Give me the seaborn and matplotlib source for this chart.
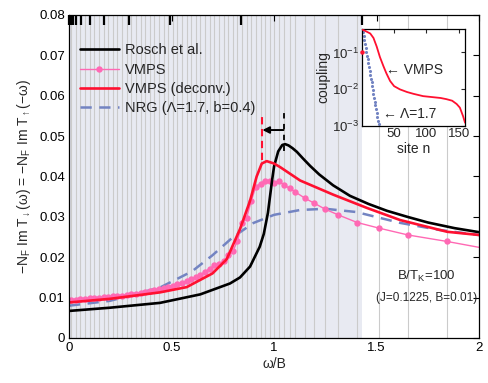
import numpy as np
import pandas as pd
import matplotlib
matplotlib.use("Agg")
import matplotlib.pyplot as plt
import seaborn as sns

# ---------------- data ----------------
rosch_x = [0.0, 0.2, 0.444, 0.64, 0.785, 0.834, 0.883, 0.93, 0.95, 0.97, 0.99, 1.0, 1.02,
           1.04, 1.054, 1.07, 1.09, 1.111, 1.14, 1.176, 1.22, 1.288, 1.37, 1.46, 1.55,
           1.65, 1.75, 1.88, 2.0]
rosch_y = [0.0067, 0.0075, 0.0087, 0.0108, 0.0135, 0.0150, 0.0177, 0.0226, 0.0258, 0.0310,
           0.0390, 0.0425, 0.0462, 0.0478, 0.0480, 0.0477, 0.0470, 0.0461, 0.0445, 0.0426,
           0.0405, 0.0378, 0.0352, 0.0332, 0.0315, 0.0300, 0.0286, 0.0272, 0.0262]

vmps_x = [0.011, 0.034, 0.056, 0.079, 0.101, 0.124, 0.146, 0.169, 0.191, 0.214, 0.236,
          0.259, 0.281, 0.304, 0.326, 0.349, 0.371, 0.394, 0.416, 0.439, 0.461, 0.484,
          0.506, 0.529, 0.551, 0.574, 0.596, 0.619, 0.641, 0.664, 0.686, 0.709, 0.731,
          0.754, 0.776, 0.799, 0.821, 0.844, 0.866, 0.889, 0.911, 0.934, 0.956, 0.979,
          1.001, 1.024, 1.049, 1.076, 1.102, 1.151, 1.195, 1.249, 1.312, 1.405, 1.512,
          1.654, 1.844, 2.1]
vmps_y = [0.0094, 0.0095, 0.0096, 0.0097, 0.0098, 0.0099, 0.0100, 0.0101, 0.0102, 0.0103,
          0.0104, 0.0105, 0.0107, 0.0108, 0.0110, 0.0112, 0.0114, 0.0116, 0.0118, 0.0121,
          0.0124, 0.0127, 0.0130, 0.0133, 0.0137, 0.0141, 0.0146, 0.0151, 0.0157, 0.0164,
          0.0172, 0.0180, 0.0183, 0.0190, 0.0205, 0.0215, 0.0240, 0.0285, 0.0298, 0.0340,
          0.0375, 0.0382, 0.0390, 0.0388, 0.0383, 0.0390, 0.0378, 0.0371, 0.0362, 0.0346,
          0.0334, 0.0319, 0.0305, 0.0286, 0.0272, 0.0255, 0.0239, 0.0215]

deconv_x = [0.0, 0.2, 0.444, 0.574, 0.70, 0.769, 0.834, 0.883, 0.915, 0.94, 0.964, 1.0,
            1.03, 1.127, 1.288, 1.453, 1.615, 1.844, 2.0]
deconv_y = [0.0088, 0.0097, 0.0113, 0.0126, 0.0160, 0.0195, 0.0270, 0.0340, 0.0400,
            0.0432, 0.0438, 0.0432, 0.0423, 0.0390, 0.0355, 0.0322, 0.0292, 0.0263, 0.0255]

nrg_x = [0.0, 0.2, 0.444, 0.6, 0.7, 0.8, 0.9, 1.0, 1.127, 1.25, 1.4, 1.615, 1.8, 2.0]
nrg_y = [0.0080, 0.0092, 0.0125, 0.0165, 0.0205, 0.0250, 0.0285, 0.0305, 0.0317, 0.0320,
         0.0312, 0.0285, 0.0268, 0.0255]

# NRG discretisation energies (top tick marks)
nrg_ticks = [1.43, 0.841, 0.495, 0.291, 0.171, 0.101, 0.0592, 0.0348, 0.0205, 0.0121,
             0.0071, 0.0042, 0.0024]

# inset: chain couplings
inset_vmps_n = [1, 5, 13, 18, 23, 28, 33.5, 38, 43.8, 50, 59, 70, 80, 95, 110, 122, 131,
                140, 147, 152, 157, 160]
inset_vmps_c = [0.42, 0.39, 0.33, 0.25, 0.145, 0.075, 0.042, 0.027, 0.0166, 0.012, 0.0098,
                0.0083, 0.0074, 0.0064, 0.0060, 0.0057, 0.0053, 0.0048, 0.0039, 0.0031,
                0.0018, 0.0012]
inset_nrg_n = list(range(1, 29))
inset_nrg_c = [0.45, 0.353, 0.277, 0.218, 0.171, 0.134, 0.105, 0.0826, 0.0649, 0.0509,
               0.040, 0.0314, 0.0246, 0.0193, 0.0152, 0.0119, 0.0094, 0.0073, 0.0058,
               0.0045, 0.0036, 0.0028, 0.0022, 0.0017, 0.0013, 0.0011, 0.00084, 0.00066]

xticks = [0, 0.5, 1, 1.5, 2]
yticks = [0, 0.01, 0.02, 0.03, 0.04, 0.05, 0.06, 0.07, 0.08]

# ---------------- style ----------------
sns.set_style("white")
plt.rcParams['font.family'] = ['Liberation Sans', 'DejaVu Sans']
plt.rcParams['mathtext.fontset'] = 'custom'
plt.rcParams['mathtext.rm'] = 'Liberation Sans'
plt.rcParams['mathtext.it'] = 'Liberation Sans'
plt.rcParams['mathtext.default'] = 'regular'
plt.rcParams['axes.unicode_minus'] = True

BLACK = '#000000'
PINK = '#ff69b4'
RED = '#ff1030'
NRGC = '#7384c2'
SHADE = '#e8eaf2'
GRID = '#cbcbcb'

fig = plt.figure(figsize=(4.89, 3.83), dpi=100)
ax = fig.add_axes([0.141, 0.1175, 0.839, 0.8435])

# background shading + VMPS frequency grid
ax.axvspan(0, 1.43, color=SHADE, lw=0, zorder=0)
for xv in vmps_x:
    if xv < 2:
        ax.axvline(xv, color=GRID, lw=0.8, zorder=0.5)

df_r = pd.DataFrame({'x': rosch_x, 'y': rosch_y})
df_v = pd.DataFrame({'x': vmps_x, 'y': vmps_y})
df_d = pd.DataFrame({'x': deconv_x, 'y': deconv_y})
df_n = pd.DataFrame({'x': nrg_x, 'y': nrg_y})

sns.lineplot(data=df_r, x='x', y='y', ax=ax, color=BLACK, lw=1.9, label='Rosch et al.', zorder=4)
sns.lineplot(data=df_v, x='x', y='y', ax=ax, color=PINK, lw=1.0, marker='o', markersize=4.6,
             markeredgewidth=0, label='VMPS', zorder=3)
sns.lineplot(data=df_d, x='x', y='y', ax=ax, color=RED, lw=1.9, label='VMPS (deconv.)', zorder=5)
sns.lineplot(data=df_n, x='x', y='y', ax=ax, color=NRGC, lw=1.8, label='NRG (Λ=1.7, b=0.4)',
             zorder=2)
ax.lines[-1].set_dashes((4.5, 3))

# peak shift annotation
ax.plot([0.94, 0.94], [0.0440, 0.0548], color=RED, lw=1.5, dashes=(3.5, 2.2), zorder=6)
ax.plot([1.046, 1.046], [0.0463, 0.0565], color=BLACK, lw=1.3, dashes=(3, 3), zorder=6)
ax.annotate('', xy=(0.943, 0.0515), xytext=(1.046, 0.0515),
            arrowprops=dict(arrowstyle='-|>', color=BLACK, lw=1.4, mutation_scale=10,
                            shrinkA=0, shrinkB=0), zorder=7)

# NRG energies as top ticks
trans = ax.get_xaxis_transform()
ax.vlines(nrg_ticks, 0.97, 1.0, transform=trans, color=BLACK, lw=1.6, zorder=8, clip_on=False)

ax.set_xlim(0, 2)
ax.set_ylim(0, 0.08)
ax.set_xticks(xticks)
ax.set_xticklabels(['0', '0.5', '1', '1.5', '2'])
ax.set_yticks(yticks)
ax.set_yticklabels(['0', '0.01', '0.02', '0.03', '0.04', '0.05', '0.06', '0.07', '0.08'])
ax.tick_params(direction='in', length=4, width=0.8, top=True, right=True, labelsize=9.5,
               colors=BLACK, pad=3)
for s in ax.spines.values():
    s.set_color(BLACK)
    s.set_linewidth(0.9)
    s.set_zorder(9)
ax.set_xlabel('ω/B', fontsize=10, labelpad=2)
ax.set_ylabel(r'$-N_F$ Im T$_{\downarrow}$(ω) = $-N_F$ Im T$_{\uparrow}$($-$ω)', fontsize=10,
              labelpad=4)

leg = ax.legend(loc='upper left', bbox_to_anchor=(0.012, 0.93), frameon=False, fontsize=10.5,
                handlelength=2.7, labelspacing=0.36, handletextpad=0.4, borderaxespad=0)
for h in leg.get_lines():
    if h.get_label() == 'NRG (Λ=1.7, b=0.4)':
        h.set_dashes((4.5, 3))

ax.text(0.871, 0.189, r'B/T$_K$=100', transform=ax.transAxes, ha='center', va='center',
        fontsize=9.5, zorder=10)
ax.text(0.871, 0.124, '(J=0.1225, B=0.01)', transform=ax.transAxes, ha='center',
        va='center', fontsize=8.5, zorder=10)

# ---------------- inset ----------------
axi = fig.add_axes([0.740, 0.672, 0.211, 0.2515])
axi.set_facecolor('white')
df_iv = pd.DataFrame({'n': inset_vmps_n, 'c': inset_vmps_c})
df_in = pd.DataFrame({'n': inset_nrg_n, 'c': inset_nrg_c})
sns.lineplot(data=df_iv, x='n', y='c', ax=axi, color=RED, lw=1.3, zorder=3)
sns.scatterplot(data=df_in, x='n', y='c', ax=axi, color=NRGC, s=5, linewidth=0, zorder=2)
axi.plot([0], [0.1], 'o', color=RED, ms=2.2, clip_on=False, zorder=5)
axi.set_yscale('log')
axi.set_xlim(0, 160)
axi.set_ylim(1e-3, 0.43)
axi.set_xticks([50, 100, 150])
axi.set_yticks([1e-3, 1e-2, 1e-1])
axi.set_yticklabels([r'10$^{-3}$', r'10$^{-2}$', r'10$^{-1}$'])
axi.minorticks_off()
axi.tick_params(direction='in', length=3, width=0.8, labelsize=9.5, pad=2, top=True,
                right=True)
for s in axi.spines.values():
    s.set_color(BLACK)
    s.set_linewidth(0.9)
axi.set_xlabel('site n', fontsize=10, labelpad=1)
axi.set_ylabel('coupling', fontsize=10, labelpad=1)
axi.text(0.235, 0.577, '← VMPS', transform=axi.transAxes, ha='left', va='center', fontsize=10)
axi.text(0.206, 0.12, '← Λ=1.7', transform=axi.transAxes, ha='left', va='center', fontsize=10)

fig.savefig('out.png', dpi=100)
